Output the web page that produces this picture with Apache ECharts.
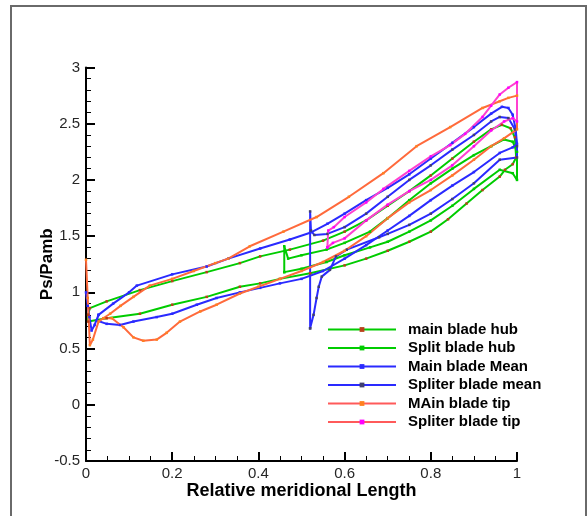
<!DOCTYPE html>
<html>
<head>
<meta charset="utf-8">
<script src="https://cdn.jsdelivr.net/npm/echarts@6/dist/echarts.min.js"></script>
<style>
  html, body { margin: 0; padding: 0; background: #fff; }
  #chart { width: 588px; height: 516px; }
</style>
</head>
<body>
<div id="chart"></div>
<script>
// each blade section is one closed loop: LE -> one side -> TE -> other side -> LE
var mainHub = [
  [0.005, 0.80], [0.009, 0.86], [0.048, 0.92], [0.125, 1.02], [0.2, 1.10], [0.28, 1.18],
  [0.357, 1.26], [0.404, 1.32], [0.473, 1.38], [0.55, 1.46], [0.6, 1.54], [0.65, 1.64],
  [0.7, 1.77], [0.75, 1.90], [0.8, 2.04], [0.85, 2.19], [0.9, 2.34], [0.94, 2.45],
  [0.965, 2.49], [0.985, 2.46], [0.995, 2.38], [0.998, 2.20], [0.99, 2.14], [0.972, 2.09],
  [0.96, 2.03], [0.92, 1.91], [0.883, 1.79], [0.84, 1.65], [0.8, 1.54], [0.75, 1.45],
  [0.7, 1.37], [0.65, 1.30], [0.6, 1.24], [0.52, 1.17], [0.45, 1.12], [0.404, 1.08],
  [0.357, 1.05], [0.28, 0.96], [0.2, 0.89], [0.125, 0.81], [0.048, 0.77], [0.005, 0.74],
  [0.005, 0.80]
];
var splitHub = [
  [0.46, 1.18], [0.46, 1.41], [0.469, 1.30], [0.5, 1.33], [0.558, 1.38], [0.6, 1.44],
  [0.659, 1.54], [0.7, 1.66], [0.75, 1.82], [0.8, 1.97], [0.85, 2.10], [0.9, 2.22],
  [0.94, 2.30], [0.97, 2.36], [0.99, 2.34], [1.0, 2.25], [1.0, 2.0], [0.99, 2.06],
  [0.96, 2.09], [0.9, 1.92], [0.85, 1.77], [0.8, 1.64], [0.75, 1.54], [0.7, 1.45],
  [0.659, 1.40], [0.6, 1.33], [0.558, 1.27], [0.5, 1.21], [0.46, 1.18]
];
var mainMean = [
  [0.0, 1.0], [0.004, 0.88], [0.008, 0.78], [0.013, 0.66], [0.02, 0.71], [0.029, 0.80],
  [0.063, 0.90], [0.10, 1.00], [0.118, 1.06], [0.2, 1.16], [0.28, 1.23], [0.33, 1.30],
  [0.404, 1.39], [0.473, 1.47], [0.52, 1.53], [0.56, 1.61], [0.6, 1.70], [0.65, 1.82],
  [0.7, 1.93], [0.75, 2.05], [0.8, 2.19], [0.85, 2.33], [0.9, 2.47], [0.94, 2.59],
  [0.965, 2.65], [0.98, 2.64], [0.99, 2.58], [0.997, 2.45], [1.0, 2.32], [0.99, 2.29],
  [0.96, 2.24], [0.9, 2.07], [0.85, 1.95], [0.8, 1.82], [0.75, 1.68], [0.7, 1.55],
  [0.65, 1.42], [0.6, 1.30], [0.55, 1.19], [0.5, 1.12], [0.45, 1.08], [0.404, 1.04],
  [0.357, 1.00], [0.303, 0.95], [0.257, 0.89], [0.2, 0.81], [0.164, 0.78], [0.11, 0.74],
  [0.079, 0.71], [0.048, 0.72], [0.025, 0.75], [0.029, 0.80]
];
var splitMean = [
  [0.52, 0.68], [0.52, 1.72], [0.522, 1.55], [0.53, 1.51], [0.56, 1.52], [0.6, 1.58],
  [0.65, 1.70], [0.7, 1.85], [0.75, 2.0], [0.8, 2.13], [0.85, 2.27], [0.9, 2.40],
  [0.94, 2.52], [0.96, 2.56], [0.98, 2.55], [0.995, 2.45], [1.0, 2.30], [1.0, 2.20],
  [0.96, 2.18], [0.9, 1.97], [0.85, 1.83], [0.8, 1.70], [0.75, 1.60], [0.7, 1.52],
  [0.68, 1.49], [0.605, 1.38], [0.58, 1.32], [0.566, 1.20], [0.547, 1.14], [0.54, 1.05],
  [0.535, 0.95], [0.528, 0.80], [0.52, 0.68]
];
var mainTip = [
  [0.0, 1.29], [0.004, 0.95], [0.009, 0.53], [0.016, 0.58], [0.029, 0.74], [0.04, 0.77],
  [0.056, 0.81], [0.08, 0.88], [0.11, 0.96], [0.148, 1.06], [0.2, 1.12], [0.25, 1.19],
  [0.3, 1.26], [0.33, 1.30], [0.38, 1.41], [0.458, 1.54], [0.535, 1.67], [0.61, 1.85],
  [0.69, 2.06], [0.767, 2.30], [0.845, 2.47], [0.92, 2.64], [0.96, 2.70], [0.98, 2.73],
  [1.0, 2.75], [1.0, 2.45], [0.97, 2.37], [0.94, 2.30], [0.9, 2.18], [0.85, 2.04],
  [0.8, 1.91], [0.75, 1.80], [0.7, 1.66], [0.65, 1.50], [0.6, 1.37], [0.55, 1.27],
  [0.5, 1.19], [0.45, 1.12], [0.4, 1.05], [0.357, 0.99], [0.303, 0.89], [0.265, 0.83],
  [0.218, 0.74], [0.187, 0.64], [0.164, 0.58], [0.133, 0.57], [0.11, 0.60], [0.087, 0.69],
  [0.06, 0.77], [0.04, 0.77]
];
var splitTip = [
  [0.56, 1.40], [0.562, 1.55], [0.575, 1.58], [0.6, 1.67], [0.65, 1.80], [0.69, 1.92],
  [0.75, 2.08], [0.8, 2.21], [0.845, 2.31], [0.88, 2.41], [0.92, 2.56], [0.94, 2.66],
  [0.96, 2.76], [0.98, 2.82], [1.0, 2.87], [1.0, 2.52], [0.99, 2.55], [0.97, 2.52],
  [0.94, 2.44], [0.9, 2.30], [0.85, 2.13], [0.8, 2.0], [0.75, 1.90], [0.7, 1.78],
  [0.65, 1.64], [0.6, 1.48], [0.573, 1.44], [0.56, 1.40]
];

var seriesNames = ['main blade hub', 'Split blade hub', 'Main blade Mean',
  'Spliter blade mean', 'MAin blade tip', 'Spliter blade tip'];
var seriesData = [mainHub, splitHub, mainMean, splitMean, mainTip, splitTip];
var lineColors = ['#00cc00', '#00cc00', '#2a2aff', '#2a2aff', '#ff6a3c', '#ff40d0'];
var markColors = ['#b8401a', '#00cc00', '#2a2aff', '#404070', '#ff8020', '#ff00ff'];
var legendLine = ['#00cc00', '#00cc00', '#2a2aff', '#2a2aff', '#ff5a5a', '#ff5a5a'];

var series = [];
var legendData = [];
for (var i = 0; i < seriesData.length; i++) {
  series.push({
    name: seriesNames[i],
    type: 'line',
    data: seriesData[i],
    symbol: 'rect',
    symbolSize: 2.5,
    showSymbol: true,
    lineStyle: { color: lineColors[i], width: 2 },
    itemStyle: { color: markColors[i] },
    emphasis: { disabled: true }
  });
  legendData.push({
    name: seriesNames[i],
    lineStyle: { color: legendLine[i], width: 2 },
    itemStyle: { color: markColors[i] }
  });
}

var axisFont = { color: '#262626', fontSize: 15, fontFamily: 'Liberation Sans, Arial' };

var option = {
  animation: false,
  backgroundColor: '#fff',
  graphic: [{
    type: 'rect',
    shape: { x: 11, y: 6, width: 575, height: 520 },
    style: { fill: 'none', stroke: '#6a6a6a', lineWidth: 2 },
    silent: true
  }],
  grid: { left: 86, top: 67.5, width: 431, height: 393.5, containLabel: false },
  legend: {
    orient: 'vertical',
    left: 322,
    top: 316,
    padding: 5,
    itemWidth: 68,
    itemHeight: 6,
    itemGap: 1.5,
    data: legendData,
    textStyle: { color: '#000', fontSize: 15, fontWeight: 'bold', lineHeight: 17,
      fontFamily: 'Liberation Sans, Arial', padding: [0, 0, 0, 7] }
  },
  xAxis: {
    type: 'value', min: 0, max: 1, interval: 0.2,
    name: 'Relative meridional Length', nameLocation: 'middle', nameGap: 21,
    nameMoveOverlap: false,
    nameTextStyle: { color: '#000', fontSize: 18, fontWeight: 'bold', fontFamily: 'Liberation Sans, Arial' },
    axisLine: { show: true, onZero: false, lineStyle: { color: '#000', width: 2 } },
    axisTick: { show: true, inside: true, length: 9, lineStyle: { color: '#000', width: 2 } },
    minorTick: { show: true, splitNumber: 4, length: 5, lineStyle: { color: '#000', width: 1 } },
    axisLabel: Object.assign({ margin: 5 }, axisFont),
    splitLine: { show: false }
  },
  yAxis: {
    type: 'value', min: -0.5, max: 3, interval: 0.5,
    name: 'Ps/Pamb', nameLocation: 'middle', nameGap: 30, nameRotate: 90,
    nameMoveOverlap: false,
    nameTextStyle: { color: '#000', fontSize: 17, fontWeight: 'bold', fontFamily: 'Liberation Sans, Arial' },
    axisLine: { show: true, onZero: false, lineStyle: { color: '#000', width: 2 } },
    axisTick: { show: true, inside: true, length: 9, lineStyle: { color: '#000', width: 2 } },
    minorTick: { show: true, splitNumber: 5, length: 5, lineStyle: { color: '#000', width: 1 } },
    axisLabel: Object.assign({ margin: 6 }, axisFont),
    splitLine: { show: false }
  },
  series: series
};

var chart = echarts.init(document.getElementById('chart'));
chart.setOption(option);
</script>
</body>
</html>
